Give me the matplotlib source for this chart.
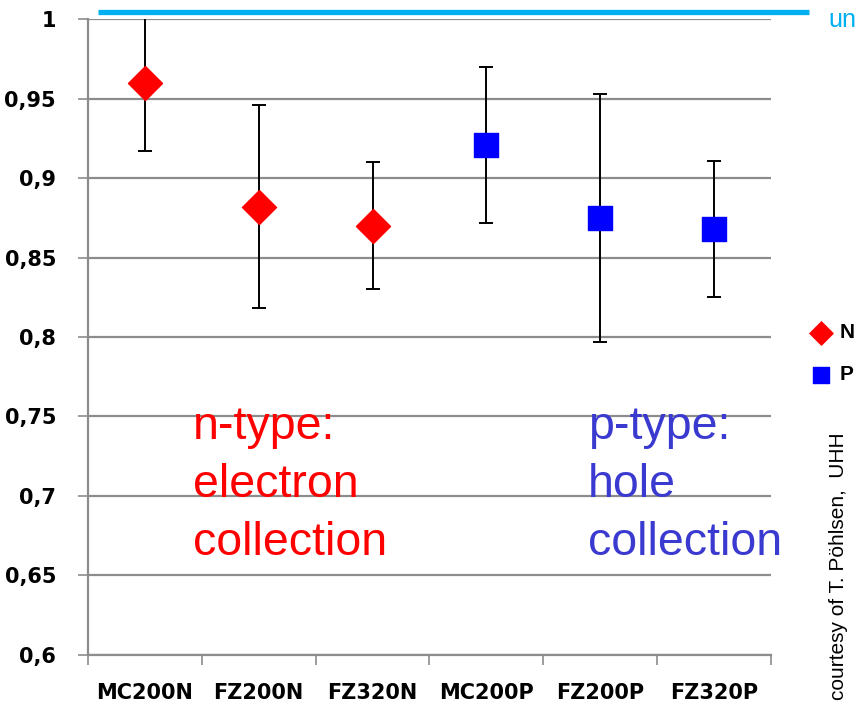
import matplotlib.pyplot as plt
from matplotlib.ticker import FixedLocator

# measured charge collection, mean and error per sensor type
samples = ['MC200N', 'FZ200N', 'FZ320N', 'MC200P', 'FZ200P', 'FZ320P']
n_values = [0.960, 0.882, 0.870]
n_errors = [0.043, 0.064, 0.040]
p_values = [0.921, 0.875, 0.868]
p_errors = [0.049, 0.078, 0.043]
y_ticks = [0.6, 0.65, 0.7, 0.75, 0.8, 0.85, 0.9, 0.95, 1.0]
y_labels = ['0,6', '0,65', '0,7', '0,75', '0,8', '0,85', '0,9', '0,95', '1']
reference_level = 1.0044


def main():
    fig = plt.figure(figsize=(8.56, 7.02), dpi=100)
    ax = fig.add_axes([0.1028, 0.0670, 0.7979, 0.9059])

    n_x = [i + 0.5 for i in range(3)]
    p_x = [i + 3.5 for i in range(3)]

    ax.errorbar(n_x, n_values, yerr=n_errors, fmt='none', ecolor='black',
                elinewidth=1.4, capsize=5, capthick=1.4, zorder=3)
    ax.errorbar(p_x, p_values, yerr=p_errors, fmt='none', ecolor='black',
                elinewidth=1.4, capsize=5, capthick=1.4, zorder=3)
    ax.scatter(n_x, n_values, marker='D', s=300, color='#FF0000', zorder=4, label='N')
    ax.scatter(p_x, p_values, marker='s', s=290, color='#0000FF', zorder=4, label='P')

    ax.set_xlim(0, 6)
    ax.set_ylim(0.6, 1.0)

    # grid and axes styling
    ax.set_yticks(y_ticks)
    ax.set_yticklabels(y_labels, fontsize=15, fontweight='bold')
    ax.yaxis.grid(True, color='#8c8c8c', linewidth=1.6)
    ax.set_axisbelow(True)
    ax.xaxis.set_major_locator(FixedLocator(range(7)))
    ax.xaxis.set_minor_locator(FixedLocator([i + 0.5 for i in range(6)]))
    ax.set_xticklabels([''] * 7)
    ax.set_xticklabels(samples, minor=True, fontsize=15, fontweight='bold')
    ax.tick_params(axis='x', which='major', length=7, width=1.2, color='#8c8c8c', direction='out')
    ax.tick_params(axis='x', which='minor', length=0, pad=20)
    ax.tick_params(axis='y', length=7, width=1.2, color='#8c8c8c', pad=16)
    for side in ['top', 'right']:
        ax.spines[side].set_visible(False)
    for side in ['left', 'bottom']:
        ax.spines[side].set_color('#8c8c8c')
        ax.spines[side].set_linewidth(1.6)

    # reference line above the plot area
    ax.plot([0.088, 6.33], [reference_level, reference_level], color='#00B0F0',
            linewidth=3.8, clip_on=False, zorder=5, solid_capstyle='butt')
    fig.text(0.968, 0.988, 'un', color='#00B0F0', fontsize=18,
             family='Liberation Sans', va='top', ha='left')

    ax.text(0.92, 0.7575, 'n-type:\nelectron\ncollection', color='#FF0000',
            fontsize=33.5, family='Liberation Sans', va='top', ha='left', linespacing=1.42)
    ax.text(4.39, 0.7575, 'p-type:\nhole\ncollection', color='#3A3AD0',
            fontsize=33.5, family='Liberation Sans', va='top', ha='left', linespacing=1.42)

    fig.legend(loc='upper left', bbox_to_anchor=(0.930, 0.566), frameon=False,
               handlelength=0.6, handletextpad=0.6, labelspacing=1.1,
               markerscale=0.68, prop={'family': 'Liberation Sans', 'weight': 'bold', 'size': 15})

    fig.text(0.979, 0.003, 'courtesy of T. Pöhlsen,  UHH', rotation=90, fontsize=15,
             family='Liberation Sans', va='bottom', ha='center')

    plt.savefig('out.png', dpi=100)
    plt.close()


main()
